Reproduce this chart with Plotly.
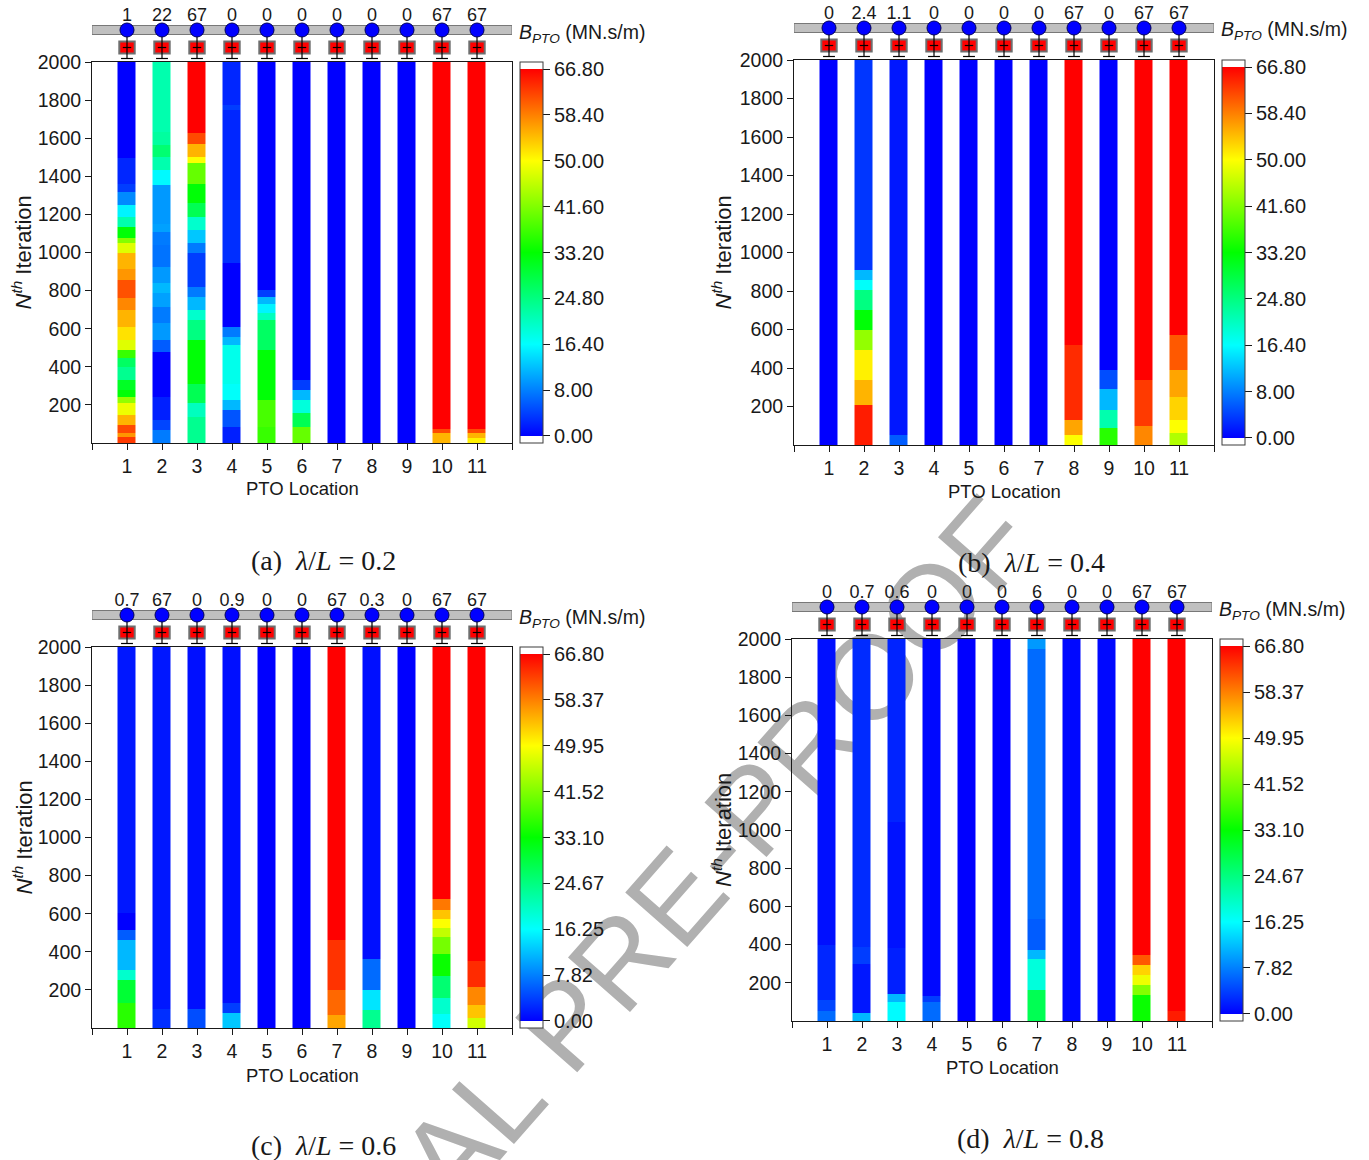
import numpy as np
import plotly.graph_objects as go

# ---------------------------------------------------------------- data
locations = list(range(1, 12))
n_iter = 2000
b_max = 66.8

# final B_PTO written above each PTO (MN.s/m)
labels_a = ["1", "22", "67", "0", "0", "0", "0", "0", "0", "67", "67"]
labels_b = ["0", "2.4", "1.1", "0", "0", "0", "0", "67", "0", "67", "67"]
labels_c = ["0.7", "67", "0", "0.9", "0", "0", "67", "0.3", "0", "67", "67"]
labels_d = ["0", "0.7", "0.6", "0", "0", "0", "6", "0", "0", "67", "67"]

cbar_text_ab = ["0.00", "8.00", "16.40", "24.80", "33.20", "41.60", "50.00", "58.40", "66.80"]
cbar_text_cd = ["0.00", "7.82", "16.25", "24.67", "33.10", "41.52", "49.95", "58.37", "66.80"]

# B_PTO history of every PTO: (first iteration, value) pairs from iteration 0 upward
hist_a = [
    [(0, 63), (33, 57), (51, 62), (94, 55), (147, 49), (208, 43), (243, 33), (278, 31), (331, 24),
     (400, 27), (444, 37), (488, 48), (541, 52), (611, 55), (698, 58), (760, 61.5), (856, 57),
     (917, 55), (996, 48), (1048, 42), (1074, 33), (1136, 22), (1188, 16), (1250, 9), (1320, 4),
     (1363, 2.5), (1494, 0)],
    [(0, 8), (68, 4.5), (121, 2), (243, 0), (479, 6), (541, 10), (628, 8), (716, 10.5), (786, 12),
     (838, 10), (926, 7.5), (1039, 8), (1109, 10.5), (1153, 10), (1354, 16.4), (1433, 22),
     (1503, 26), (1564, 23), (1634, 22)],
    [(0, 24), (138, 21), (208, 28), (313, 33), (541, 25), (646, 20), (698, 12), (768, 8), (821, 4),
     (996, 8), (1048, 13), (1118, 20), (1188, 28), (1258, 33), (1363, 40), (1468, 50), (1503, 55),
     (1573, 62), (1626, 66.8)],
    [(0, 2), (86, 5.5), (173, 12), (226, 17), (313, 18), (514, 12), (558, 8), (611, 0), (944, 3),
     (1276, 2.5), (1748, 4), (1774, 2.5)],
    [(0, 37), (86, 38), (226, 33), (488, 27), (646, 21), (681, 16), (733, 12), (768, 4), (804, 0)],
    [(0, 40), (86, 28), (156, 19), (226, 12), (278, 4), (331, 0)],
    [(0, 0)],
    [(0, 0)],
    [(0, 0)],
    [(0, 55), (51, 62), (77, 66.8)],
    [(0, 51), (25, 55), (51, 62), (77, 66.8)],
]

hist_b = [
    [(0, 0)],
    [(0, 65), (208, 55), (338, 51), (494, 43), (597, 33), (701, 25), (805, 17), (857, 12), (909, 3.5)],
    [(0, 6), (50, 1.5)],
    [(0, 0)],
    [(0, 0)],
    [(0, 0)],
    [(0, 0)],
    [(0, 50), (52, 56), (130, 64), (520, 66.8)],
    [(0, 36), (90, 22), (180, 12), (290, 5), (390, 0)],
    [(0, 58), (100, 63), (340, 66.8)],
    [(0, 45), (60, 50), (130, 53), (250, 56), (390, 61), (570, 66.8)],
]

hist_c = [
    [(0, 36), (130, 30), (252, 20), (304, 12), (462, 6), (514, 0), (604, 1.5)],
    [(0, 3), (100, 1.5)],
    [(0, 5), (100, 1)],
    [(0, 13), (80, 4), (130, 1)],
    [(0, 0)],
    [(0, 0)],
    [(0, 56), (70, 60), (200, 63.5), (460, 66.8)],
    [(0, 24), (95, 15), (200, 7), (360, 1)],
    [(0, 0)],
    [(0, 17), (76, 20), (157, 26), (272, 34), (388, 41), (480, 46), (526, 50), (573, 54), (619, 59),
     (677, 66.8)],
    [(0, 47), (52, 54), (122, 58), (214, 64), (353, 66.8)],
]

hist_d = [
    [(0, 7), (50, 4.5), (110, 2.5), (400, 1)],
    [(0, 12), (40, 1.5), (300, 4), (390, 2.8)],
    [(0, 16.5), (100, 12), (145, 2), (380, 1.2), (1040, 2.3)],
    [(0, 7), (100, 4), (130, 0.5)],
    [(0, 0)],
    [(0, 0)],
    [(0, 28), (164, 19), (324, 12), (372, 6), (534, 7), (1950, 10)],
    [(0, 0.5)],
    [(0, 0.5)],
    [(0, 34), (136, 42), (188, 49), (240, 53), (293, 61), (345, 66.8)],
    [(0, 65), (50, 66.8)],
]

# ---------------------------------------------------------------- helpers
W, H = 1369, 1160
FONT = "Liberation Sans, Arial, sans-serif"
SERIF = "Liberation Serif, Times New Roman, serif"
INK = "rgb(25,25,25)"


def fx(p):
    return p / W


def fy(p):
    return 1 - p / H


step = 2
y_centers = np.arange(step / 2, n_iter, step)


def column(hist):
    starts = np.array([s for s, _ in hist], dtype=float)
    vals = np.array([v for _, v in hist], dtype=float)
    idx = np.searchsorted(starts, y_centers, side="right") - 1
    return vals[idx]


# rainbow scale with white caps above and below the data range
pad = 1.28
zlo, zhi = -pad, b_max + pad


def frac(v):
    return (v - zlo) / (zhi - zlo)


anchors = [(0.0, "rgb(0,0,255)"), (8.35, "rgb(0,128,255)"), (16.7, "rgb(0,255,255)"),
           (25.05, "rgb(0,255,128)"), (33.4, "rgb(0,255,0)"), (41.75, "rgb(128,255,0)"),
           (50.1, "rgb(255,255,0)"), (58.45, "rgb(255,128,0)"), (66.8, "rgb(255,0,0)")]
colorscale = [[0, "white"], [frac(-0.02), "white"], [frac(-0.01), "rgb(0,0,255)"]]
colorscale += [[frac(v), c] for v, c in anchors]
colorscale += [[frac(b_max + 0.01), "white"], [1, "white"]]
tickvals_cb = list(np.linspace(0, b_max, 9))

panels = [
    dict(hist=hist_a, labels=labels_a, ctext=cbar_text_ab, box=(92, 512, 62, 443), cbx=520,
         cap="(a)", lam="0.2", cap_xy=(323, 560), ytx=22, xty=489),
    dict(hist=hist_b, labels=labels_b, ctext=cbar_text_ab, box=(794, 1214, 60, 445), cbx=1222,
         cap="(b)", lam="0.4", cap_xy=(1031, 562), ytx=722, xty=491),
    dict(hist=hist_c, labels=labels_c, ctext=cbar_text_cd, box=(92, 512, 647, 1028), cbx=520,
         cap="(c)", lam="0.6", cap_xy=(323, 1145), ytx=22, xty=1075),
    dict(hist=hist_d, labels=labels_d, ctext=cbar_text_cd, box=(792, 1212, 639, 1021), cbx=1220,
         cap="(d)", lam="0.8", cap_xy=(1030, 1138), ytx=722, xty=1067),
]

fig = go.Figure()
shapes = []
annotations = []

# faint diagonal watermark, kept beneath everything else
c_x, c_y = 572, 998
ux, uy = 0.66, -0.75
half = 600
shapes.append(dict(
    type="line", xref="paper", yref="paper", layer="below",
    x0=fx(c_x - ux * half), y0=fy(c_y - uy * half),
    x1=fx(c_x + ux * half), y1=fy(c_y + uy * half),
    line=dict(color="rgba(0,0,0,0)", width=0),
    label=dict(text="JOURNAL PRE-PROOF", textposition="middle", yanchor="middle",
               font=dict(family=FONT, size=120, color="rgb(176,176,176)")),
))

SCH_H = 58  # height in px of the PTO sketch strip above each map
layout_axes = {}

for i, p in enumerate(panels):
    x0, x1, top, bot = p["box"]
    hm_id = 2 * i + 1
    sk_id = 2 * i + 2
    hx = "x" if hm_id == 1 else f"x{hm_id}"
    hy = "y" if hm_id == 1 else f"y{hm_id}"
    sx, sy = f"x{sk_id}", f"y{sk_id}"

    z = np.column_stack([column(h) for h in p["hist"]])
    fig.add_trace(go.Heatmap(
        x=locations, y=y_centers, z=z, zmin=zlo, zmax=zhi, colorscale=colorscale,
        xgap=17, hoverinfo="skip", xaxis=hx, yaxis=hy,
        colorbar=dict(
            x=fx(p["cbx"]), xanchor="left", xref="paper", xpad=0,
            y=fy(top), yanchor="top", yref="paper", ypad=0,
            len=bot - top, lenmode="pixels", thickness=23, thicknessmode="pixels",
            outlinewidth=1, outlinecolor="rgb(60,60,60)",
            tickmode="array", tickvals=tickvals_cb, ticktext=p["ctext"],
            ticks="outside", ticklen=7, tickcolor=INK,
            tickfont=dict(family=FONT, size=20, color=INK),
        ),
    ))

    common = dict(showgrid=False, zeroline=False, showline=True, linecolor=INK, linewidth=1,
                  mirror=True, ticks="outside", ticklen=6, tickcolor=INK, automargin=False,
                  tickfont=dict(family=FONT, size=19.5, color=INK))
    layout_axes["xaxis" if hm_id == 1 else f"xaxis{hm_id}"] = dict(
        domain=[fx(x0), fx(x1)], range=[0, 12], anchor=hy, tickmode="array",
        tickvals=list(range(0, 13)), ticktext=[""] + [str(v) for v in locations] + [""], **common)
    layout_axes["yaxis" if hm_id == 1 else f"yaxis{hm_id}"] = dict(
        domain=[fy(bot), fy(top)], range=[0, n_iter], anchor=hx, tickmode="array",
        tickvals=list(range(200, 2001, 200)), **common)

    # sketch strip: shares the x scale, y measured in px above the map
    layout_axes[f"xaxis{sk_id}"] = dict(domain=[fx(x0), fx(x1)], range=[0, 12], anchor=sy,
                                        visible=False, fixedrange=True, automargin=False)
    layout_axes[f"yaxis{sk_id}"] = dict(domain=[fy(top), fy(top - SCH_H)], range=[0, SCH_H],
                                        anchor=sx, visible=False, fixedrange=True,
                                        automargin=False)

    y_circ, y_damp, y_gnd, y_lab = 32, 14.5, 3.5, 46
    shapes.append(dict(type="rect", xref=sx, yref=sy, x0=0, x1=12, y0=27.5, y1=36.5,
                       fillcolor="rgb(192,192,192)", line=dict(color="rgb(120,120,120)", width=1),
                       layer="between"))
    for loc in locations:
        shapes.append(dict(type="rect", xref=sx, yref=sy, x0=loc - 0.22, x1=loc + 0.22,
                           y0=y_damp - 6, y1=y_damp + 6, fillcolor="rgb(255,0,0)",
                           line=dict(color="rgb(110,110,110)", width=2), layer="between"))

    lx, ly = [], []
    for loc in locations:
        lx += [loc, loc, None, loc - 0.17, loc + 0.17, None, loc - 0.12, loc + 0.12, None]
        ly += [y_circ, y_gnd, None, y_gnd, y_gnd, None, y_damp, y_damp, None]
    fig.add_trace(go.Scatter(x=lx, y=ly, mode="lines", line=dict(color="black", width=1.2),
                             hoverinfo="skip", showlegend=False, xaxis=sx, yaxis=sy))
    fig.add_trace(go.Scatter(x=locations, y=[y_circ] * len(locations), mode="markers",
                             marker=dict(size=14, color="rgb(0,0,255)",
                                         line=dict(color="rgb(0,0,90)", width=1)),
                             hoverinfo="skip", showlegend=False, xaxis=sx, yaxis=sy))
    fig.add_trace(go.Scatter(x=locations, y=[y_lab] * len(locations), mode="text",
                             text=p["labels"], textfont=dict(family=FONT, size=18, color=INK),
                             cliponaxis=False, hoverinfo="skip", showlegend=False,
                             xaxis=sx, yaxis=sy))

    annotations.append(dict(xref="paper", yref="paper", x=fx(x1 + 5), y=fy(top - 29),
                            xanchor="left", yanchor="middle", showarrow=False,
                            text="<i>B</i><sub><i>PTO</i></sub> (MN.s/m)",
                            font=dict(family=FONT, size=19.5, color=INK)))
    annotations.append(dict(xref="paper", yref="paper", x=fx(p["ytx"]), y=fy((top + bot) / 2),
                            xanchor="center", yanchor="middle", showarrow=False, textangle=-90,
                            text="<i>N</i><sup><i>th</i></sup> Iteration",
                            font=dict(family=FONT, size=22, color=INK)))
    annotations.append(dict(xref="paper", yref="paper", x=fx((x0 + x1) / 2), y=fy(p["xty"]),
                            xanchor="center", yanchor="middle", showarrow=False,
                            text="PTO Location", font=dict(family=FONT, size=18.5, color=INK)))
    cx, cy = p["cap_xy"]
    annotations.append(dict(xref="paper", yref="paper", x=fx(cx), y=fy(cy),
                            xanchor="center", yanchor="middle", showarrow=False,
                            text=f"{p['cap']}  <i>λ</i>/<i>L</i> = {p['lam']}",
                            font=dict(family=SERIF, size=28, color=INK)))

fig.update_layout(
    template="none",
    width=W, height=H, margin=dict(l=0, r=0, t=0, b=0, autoexpand=False),
    paper_bgcolor="white", plot_bgcolor="rgba(0,0,0,0)",
    showlegend=False, shapes=shapes, annotations=annotations,
    font=dict(family=FONT, color=INK),
    **layout_axes,
)

fig.write_html("out.html")
